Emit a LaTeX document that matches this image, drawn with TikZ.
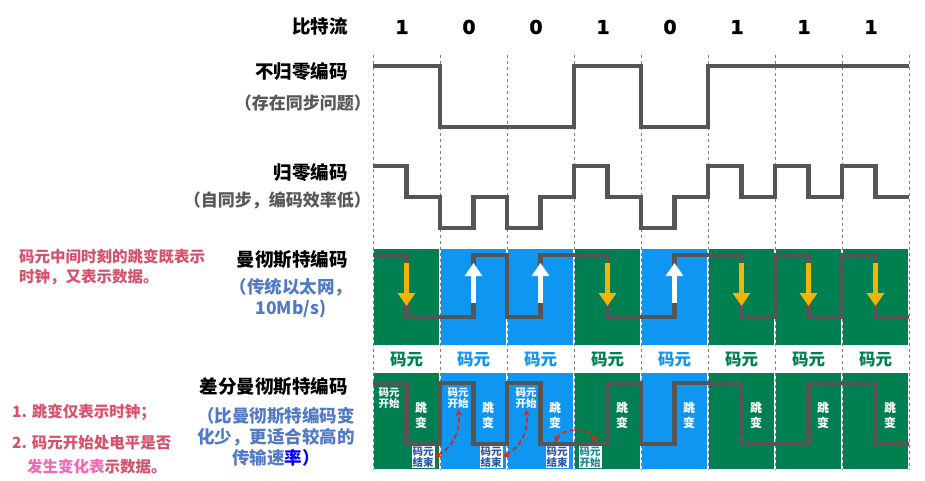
\documentclass[tikz,border=0pt]{standalone}
\usepackage{fontspec}
\setmainfont{Noto Sans CJK SC}
\newfontfamily\digitfont{DejaVu Sans}[BoldFeatures={FakeBold=1.5}]
\usetikzlibrary{arrows.meta}
\usetikzlibrary{positioning}

\definecolor{cellgreen}{RGB}{0,128,80}
\definecolor{cellblue}{RGB}{14,150,240}
\definecolor{wavegray}{RGB}{85,85,85}
\definecolor{markyellow}{RGB}{245,180,0}
\definecolor{notered}{RGB}{214,82,108}
\definecolor{notepink}{RGB}{242,104,184}
\definecolor{subblue}{RGB}{82,122,196}
\definecolor{subgray}{RGB}{88,88,88}
\definecolor{arcred}{RGB}{204,44,30}
\definecolor{tagblue}{RGB}{38,88,168}
\definecolor{tagteal}{RGB}{22,138,150}

\tikzset{title/.style={        % row names on the left
           font=\fontsize{18.5}{22}\selectfont\bfseries,
           anchor=east, inner sep=0pt},
         subtitle/.style={     % grey remark under a row name
           font=\fontsize{17}{22}\selectfont\bfseries,
           text=subgray, anchor=east, inner sep=0pt},
         bluesub/.style={      % blue remark, centred lines
           font=\fontsize{17.5}{21}\selectfont\bfseries,
           text=subblue, align=center, inner sep=0pt},
         note/.style={         % red side notes
           font=\fontsize{15.5}{20}\selectfont\bfseries,
           text=notered, anchor=west, align=left, inner sep=0pt},
         bit/.style={font=\digitfont\fontsize{19}{22}\selectfont\bfseries, inner sep=0pt},
         symbol/.style={font=\fontsize{16.5}{20}\selectfont\bfseries, inner sep=0pt},
         jump/.style={font=\fontsize{12}{15}\selectfont\bfseries, text=white,
           align=center, inner sep=0pt},
         tag/.style={font=\fontsize{10.5}{11}\selectfont\bfseries,
           align=center, inner sep=1pt},
         grid line/.style={gray, dash pattern=on 3pt off 3pt, line width=0.7pt},
         wave/.style={wavegray, line width=4.8pt, line join=miter},
         down mark/.style={markyellow, line width=5pt,
           -{Triangle[width=17pt,length=13pt]}},
         up mark/.style={white, line width=5pt,
           -{Triangle[width=17pt,length=13pt]}},
         arc mark/.style={arcred, line width=1.7pt, dash pattern=on 5pt off 3pt,
           {Stealth[length=6.5pt,width=6.5pt]}-{Stealth[length=6.5pt,width=6.5pt]}}}

\begin{document}
\begin{tikzpicture}[x=1pt, y=1pt]
\useasboundingbox (0,0) rectangle (925,-481);

% dashed bit boundaries
\foreach \i in {0,...,8}
    \draw[grid line] ({373+67*\i},-55) -- ({373+67*\i},-470);

% coloured symbol cells, bits and labels
\foreach \b/\col [count=\i from 0] in {1/cellgreen,0/cellblue,0/cellblue,1/cellgreen,
                                      0/cellblue,1/cellgreen,1/cellgreen,1/cellgreen}{
    \fill[\col] ({373+67*\i+0.7},-249) rectangle ({440+67*\i-0.7},-345);
    \fill[\col] ({373+67*\i+0.7},-373) rectangle ({440+67*\i-0.7},-469);
    \node[bit] (bit\i) at ({402+67*\i},-27) {\b};
    \node[symbol, text=\col] (sym\i) at ({406.5+67*\i},-360) {码元};
    \node[jump] (jump\i) at ({421+67*\i},-415) {跳\\变};
}

% row names
\node[title] (bits) at (348,-26) {比特流};
\node[title] (nrz) at (348,-72) {不归零编码};
\node[subtitle] (nrzsub) at (371,-103) {（存在同步问题）};
\node[title] (rz) at (348,-173) {归零编码};
\node[subtitle] (rzsub) at (371,-200) {（自同步，编码效率低）};
\node[title] (man) at (348,-260) {曼彻斯特编码};
\node[bluesub] (mansub) at (291,-298) {（传统以太网，\\10Mb/s)};
\node[title] (dman) at (348,-387) {差分曼彻斯特编码};
\node[bluesub] (dmansub) at (276,-437) {（比曼彻斯特编码变\\化少，更适合较高的\\传输速\textcolor{blue}{率）}};

% side notes
\node[note] (note1) at (19,-267) {码元中间时刻的跳变既表示\\时钟，又表示数据。};
\node[note] (note2) at (12,-412) {1. 跳变仅表示时钟；};
\node[note] (note3) at (12,-443) {2. 码元开始处电平是否};
\node[note] (note4) at (27,-467) {\textcolor{notepink}{发生变化表}示数据。};

% waveforms
\draw[wave] (373,-66) -| (440,-127) -| (574,-66) -| (641,-127) -| (708,-66) -- (909,-66);
\draw[wave] (373,-166) -| (406.5,-197) -| (440,-228) -| (473.5,-197) -| (507,-228)
    -| (540.5,-197) -| (574,-166) -| (607.5,-197) -| (641,-228) -| (674.5,-197)
    -| (708,-166) -| (741.5,-197) -| (775,-166) -| (808.5,-197) -| (842,-166)
    -| (875.5,-197) -- (909,-197);
\draw[wave] (373,-255) -| (406.5,-317) -| (473.5,-255) -| (507,-317) -| (540.5,-255)
    -| (607.5,-317) -| (674.5,-255) -| (741.5,-317) -| (775,-255) -| (808.5,-317)
    -| (842,-255) -| (875.5,-317) -- (909,-317);
\draw[wave] (373,-383) -| (406.5,-444) -| (440,-383) -| (473.5,-444) -| (507,-383)
    -| (540.5,-444) -| (607.5,-383) -| (641,-444) -| (674.5,-383) -| (741.5,-444)
    -| (808.5,-383) -| (875.5,-444) -- (909,-444);

% mid-bit transitions
\foreach \b [count=\i from 0] in {1,0,0,1,0,1,1,1}{
    \ifnum\b=1
        \draw[down mark] ({406.5+67*\i},-263) -- ({406.5+67*\i},-306);
    \else
        \draw[up mark] ({406.5+67*\i},-303) -- ({406.5+67*\i},-263);
    \fi
}

% symbol start / end tags
\node[tag, text=white] (start1) at (389,-398) {码元\\开始};
\node[tag, text=white] (start2) at (458,-398) {码元\\开始};
\node[tag, text=white] (start3) at (526,-398) {码元\\开始};
\node[tag, text=tagblue, fill=white] (end1) at (423,-457) {码元\\结束};
\node[tag, text=tagblue, fill=white] (end2) at (491,-457) {码元\\结束};
\node[tag, text=tagblue, fill=white] (end3) at (557,-457) {码元\\结束};
\node[tag, text=tagteal, fill=white] (start4) at (590,-457) {码元\\开始};

\draw[arc mark] (end1.east) to[bend right=35] (start2.south);
\draw[arc mark] (end2.east) to[bend right=35] (start3.south);
\draw[arc mark] ([xshift=-2pt,yshift=3pt]end3.north) to[bend left=70]
    ([xshift=6pt,yshift=3pt]start4.north);
\end{tikzpicture}
\end{document}
